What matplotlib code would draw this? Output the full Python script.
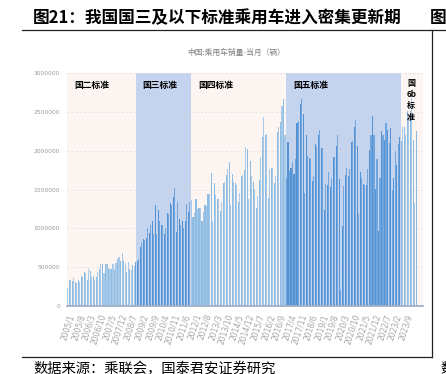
import matplotlib
matplotlib.use("Agg")
import matplotlib.pyplot as plt
from matplotlib.lines import Line2D

plt.rcParams['font.family'] = ['Noto Sans CJK SC', 'DejaVu Sans']

# monthly passenger car sales, 10k units
sales_2005 = [23, 34, 33, 32, 36, 31, 29, 34, 31, 38, 37, 44]
sales_2006 = [42, 33, 47, 45, 37, 38, 33, 37, 44, 48, 54, 54]
sales_2007 = [42, 54, 54, 49, 47, 48, 54, 46, 55, 60, 63, 58]
sales_2008 = [68, 58, 56, 44, 57, 48, 46, 53, 52, 57, 58, 60]
sales_2009 = [76, 81, 86, 85, 88, 100, 94, 104, 110, 93, 130, 93]
sales_2010 = [124, 110, 104, 104, 93, 100, 120, 119, 132, 130, 140, 152]
sales_2011 = [95, 134, 112, 104, 110, 100, 109, 131, 121, 134, 136, 115]
sales_2012 = [120, 138, 125, 126, 126, 110, 121, 130, 129, 144, 144, 171]
sales_2013 = [110, 158, 143, 138, 138, 122, 134, 158, 160, 169, 177, 185]
sales_2014 = [130, 170, 160, 158, 156, 134, 145, 168, 169, 175, 205, 202]
sales_2015 = [138, 187, 167, 160, 151, 126, 141, 162, 192, 218, 243, 220]
sales_2016 = [221, 139, 177, 178, 178, 159, 167, 224, 230, 237, 258, 266]
sales_2017 = [220, 165, 211, 174, 178, 185, 170, 189, 236, 238, 260, 266]
sales_2018 = [247, 145, 220, 193, 191, 189, 161, 167, 208, 206, 220, 227]
sales_2019 = [204, 204, 124, 157, 156, 172, 153, 165, 192, 192, 206, 220]
sales_2020 = [163, 20, 103, 155, 169, 178, 168, 177, 211, 213, 231, 240]
sales_2021 = [206, 118, 172, 165, 157, 156, 156, 177, 201, 220, 244, 220]
sales_2022 = [151, 189, 96, 165, 225, 220, 214, 235, 227, 210, 229, 149]
sales_2023 = [165, 200, 181, 208, 217, 213, 230, 230, 220, 251, 241, 251]
sales_2024 = [268, 214, 133, 225]

yearly = [sales_2005, sales_2006, sales_2007, sales_2008, sales_2009, sales_2010,
          sales_2011, sales_2012, sales_2013, sales_2014, sales_2015, sales_2016,
          sales_2017, sales_2018, sales_2019, sales_2020, sales_2021, sales_2022,
          sales_2023, sales_2024]

sales = [v * 10000 for year in yearly for v in year]
months = [f"{2005 + i // 12}/{i % 12 + 1}" for i in range(len(sales))]

# emission standard periods (name, first month)
stages = ["国二标准", "国三标准", "国四标准", "国五标准", "国6b标准"]
stage_start = ["2005/1", "2008/10", "2011/11", "2017/2", "2023/6"]

pink = "#fdf5f1"
blue = "#c5d4ee"

W, H = 446, 374
fig = plt.figure(figsize=(W / 100, H / 100), dpi=100)


def fx(px):
    return px / W


def fy(py):
    return 1 - py / H


ax = fig.add_axes([fx(67), fy(306), fx(423) - fx(67), fy(73) - fy(306)])

n = len(sales)
x = list(range(n))
x_end = n + 3.5
edges = [months.index(s) - (0.5 if i == 0 else 0) for i, s in enumerate(stage_start)] + [x_end]

colors = []
for i in range(n):
    k = max(j for j in range(len(stages)) if i >= edges[j])
    if k % 2 == 0:
        colors.append("#a8cae8" if i % 2 == 0 else "#8fbce3")
    else:
        colors.append("#5592d4" if i % 2 == 0 else "#70a5dd")

for j in range(len(stages)):
    ax.axvspan(edges[j], edges[j + 1], color=pink if j % 2 == 0 else blue, zorder=0, lw=0)

ax.bar(x, sales, width=0.72, color=colors, linewidth=0, zorder=3)

ax.set_xlim(-0.5, x_end)
ax.set_ylim(0, 3000000)
ax.set_yticks(range(0, 3000001, 500000))
ax.set_yticklabels([str(v) for v in range(0, 3000001, 500000)],
                   fontsize=4.3, color="#999999", family="DejaVu Sans")
ax.grid(axis="y", linestyle=(0, (3, 3)), color="#dddddd", linewidth=0.5, zorder=1)
ax.set_axisbelow(False)
ax.tick_params(axis="y", length=0, pad=5)

tick_pos = list(range(0, n - 6, 7))
ax.set_xticks(tick_pos)
ax.set_xticklabels([months[i] for i in tick_pos], rotation=72, ha="right",
                   rotation_mode="anchor", fontsize=5.5, color="#a6a6a6",
                   family="DejaVu Sans")
ax.tick_params(axis="x", length=0, pad=5)

for s in ["top", "right", "left"]:
    ax.spines[s].set_visible(False)
ax.spines["bottom"].set_color("#9fb0c6")
ax.spines["bottom"].set_linewidth(1.3)
ax.spines["bottom"].set_zorder(4)

for j, name in enumerate(stages[:-1]):
    ax.annotate(name, xy=(edges[j], 1), xycoords=("data", "axes fraction"),
                xytext=(5.5 if j == 0 else 5, -9), textcoords="offset points",
                fontsize=6.3, fontweight="bold", va="center", ha="left", zorder=5)
ax.annotate("国\n6b\n标\n准", xy=(edges[-2], 1), xycoords=("data", "axes fraction"),
            xytext=(7.2, -4), textcoords="offset points", fontsize=5.8,
            fontweight="bold", va="top", ha="center", linespacing=1.35, zorder=5)

fig.text(fx(236), fy(53), "中国:乘用车销量-当月（辆）", fontsize=5.6,
         color="#7f7f7f", ha="center", va="center")

fig.text(fx(33), fy(18), "图21：我国国三及以下标准乘用车进入密集更新期",
         fontsize=12, fontweight="bold", ha="left", va="center")
fig.text(fx(430), fy(18), "图22：", fontsize=12, fontweight="bold",
         ha="left", va="center")
fig.text(fx(33), fy(369), "数据来源：乘联会，国泰君安证券研究",
         fontsize=10.3, ha="left", va="center")
fig.text(fx(440), fy(369), "数据", fontsize=10.3, ha="left", va="center")

fig.add_artist(Line2D([fx(22), 1], [fy(30), fy(30)], color="#222222", lw=0.9))
fig.add_artist(Line2D([fx(432), fx(432)], [fy(30), fy(357)], color="#222222", lw=0.9))
fig.add_artist(Line2D([fx(22), fx(432)], [fy(357), fy(357)], color="#222222", lw=0.9))

fig.savefig("out.png", dpi=100)
